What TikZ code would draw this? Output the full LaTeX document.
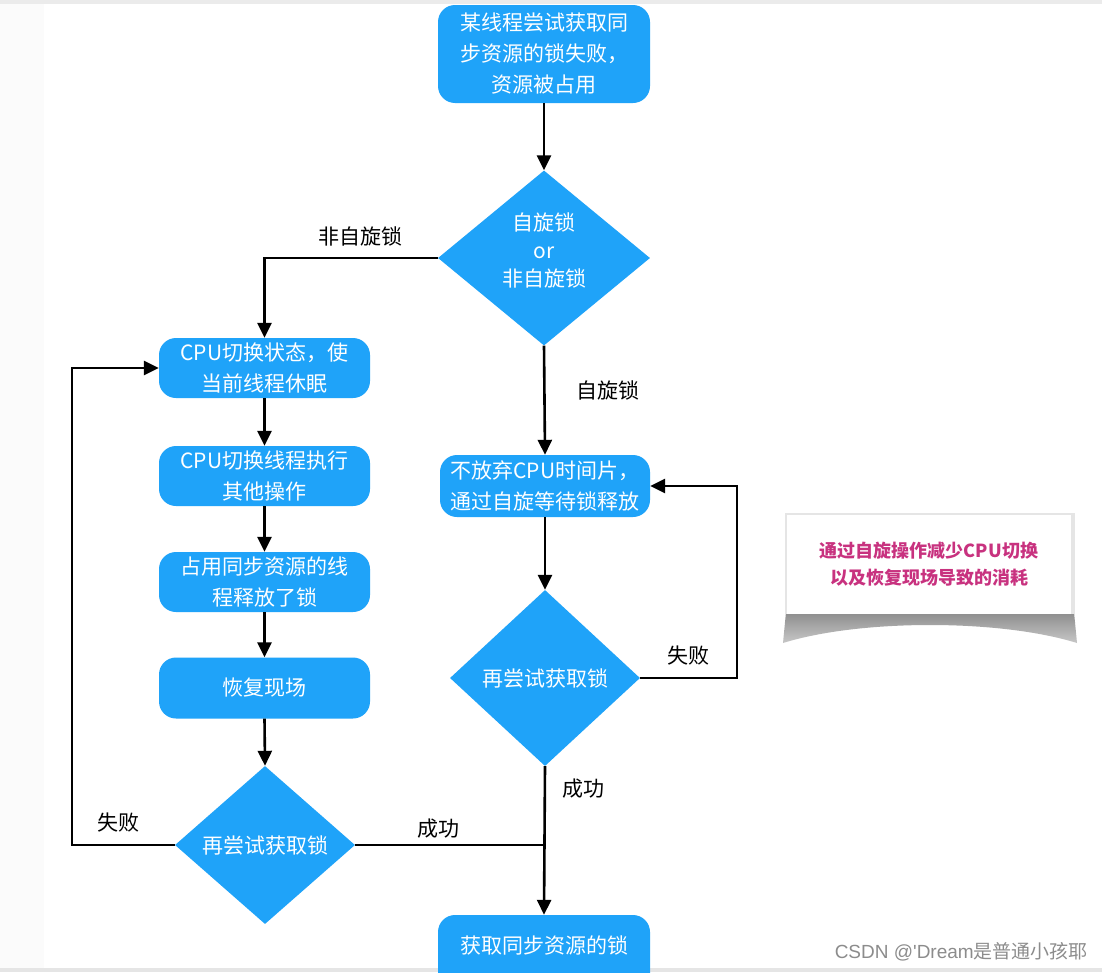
\documentclass[tikz,border=0pt]{standalone}
\usepackage{fontspec}
\setmainfont{Noto Sans CJK SC}
\newfontfamily\cjkplain{Noto Sans CJK SC}
\newfontfamily\wmlatin{Liberation Sans}
\usetikzlibrary{arrows.meta,shapes.geometric}
\definecolor{flowblue}{HTML}{1FA3F9}
\definecolor{notepink}{HTML}{C8327F}
\tikzset{
  box/.style={rounded corners=17pt, fill=flowblue, draw=none, minimum width=212pt, text=white, align=center, font=\fontsize{21}{31}\selectfont, inner sep=0pt},
  dia/.style={diamond, fill=flowblue, draw=none, inner sep=0pt},
  wtext/.style={text=white, align=center, font=\fontsize{21}{28}\selectfont},
  lbl/.style={text=black, font=\fontsize{21}{24}\selectfont},
  conn/.style={line width=2.6pt, draw=black},
  arr/.style={conn, -{Triangle[length=15pt,width=14pt]}},
}
\begin{document}
\begin{tikzpicture}[x=1pt,y=-1pt]
\clip (0,0) rectangle (1102,972);
\fill[white] (0,0) rectangle (1102,972);
\fill[black!1.5] (0,0) rectangle (44,972);
\fill[black!8] (0,0) rectangle (1102,4);
\fill[black!10] (0,968) rectangle (1102,972);

% boxes
\node[box, minimum height=98pt] (top) at (544,54) {某线程尝试获取同\\步资源的锁失败，\\资源被占用};
\node[dia, minimum width=212pt, minimum height=175pt] (d1) at (544,258) {};
\node[wtext] (d1t) at (544,250) {自旋锁\\or\\非自旋锁};

\node[box, minimum height=60pt, minimum width=211pt] (b1) at (264.5,368) {CPU切换状态，使\\当前线程休眠};
\node[box, minimum height=60pt, minimum width=211pt] (b2) at (264.5,476) {CPU切换线程执行\\其他操作};
\node[box, minimum height=60pt, minimum width=211pt] (b3) at (264.5,582) {占用同步资源的线\\程释放了锁};
\node[box, minimum height=61pt, minimum width=211pt] (b4) at (264.5,688) {恢复现场};
\node[dia, minimum width=180pt, minimum height=158pt] (d2) at (265,845) {};
\node[wtext] (d2t) at (d2) {再尝试获取锁};

\node[box, minimum height=62pt, minimum width=210pt] (r1) at (545,486) {不放弃CPU时间片，\\通过自旋等待锁释放};
\node[dia, minimum width=190pt, minimum height=176pt] (d3) at (545,678) {};
\node[wtext] (d3t) at (d3) {再尝试获取锁};

\node[box, minimum height=76pt] (bot) at (544,953) {};
\node[wtext] (bott) at (544,945) {获取同步资源的锁};

% connectors
\coordinate (lp) at (72,368);
\coordinate (rp) at (737,486);
\coordinate (join) at (545,845);
\draw[arr] (top.south) -- (d1.north);
\draw[arr] (d1.west) -| (b1.north);
\draw[arr] (b1.south) -- (b2.north);
\draw[arr] (b2.south) -- (b3.north);
\draw[arr] (b3.south) -- (b4.north);
\draw[arr] (b4.south) -- (d2.north);
\draw[arr] (d2.west) -| (lp) -- (b1.west);
\draw[conn] (d2.east) -- (join);
\draw[arr] (d1.south) -- (r1.north);
\draw[arr] (r1.south) -- (d3.north);
\draw[arr] (d3.east) -| (rp) -- (r1.east);
\draw[arr] (d3.south) -- (bot.north);

% labels
\node[lbl] (l1) at (360,236) {非自旋锁};
\node[lbl] (l2) at (608,390) {自旋锁};
\node[lbl] (l3) at (688,656) {失败};
\node[lbl] (l4) at (583,789) {成功};
\node[lbl] (l5) at (118,823) {失败};
\node[lbl] (l6) at (438,829) {成功};

% note with curled shadow
\shade[top color=black!45, bottom color=black!22] (786,612) -- (1074,612) -- (1077,643) .. controls (1000,619) and (860,619) .. (783,643) -- cycle;
\fill[black!10] (785,513) rectangle (1075,614);
\node[fill=white, minimum width=284pt, minimum height=99pt, inner sep=0pt] (note) at (929,564) {};
\node[text=notepink, align=center, font=\fontsize{18}{27}\bfseries\selectfont] (notet) at (929,564) {通过自旋操作减少CPU切换\\以及恢复现场导致的消耗};

% watermark
\node[text=black!45, font=\fontsize{19}{22}\selectfont, anchor=east, inner sep=0pt] (wm) at (1088,952) {{\wmlatin CSDN @'Dream}{\cjkplain 是普通小孩耶}};
\end{tikzpicture}
\end{document}
